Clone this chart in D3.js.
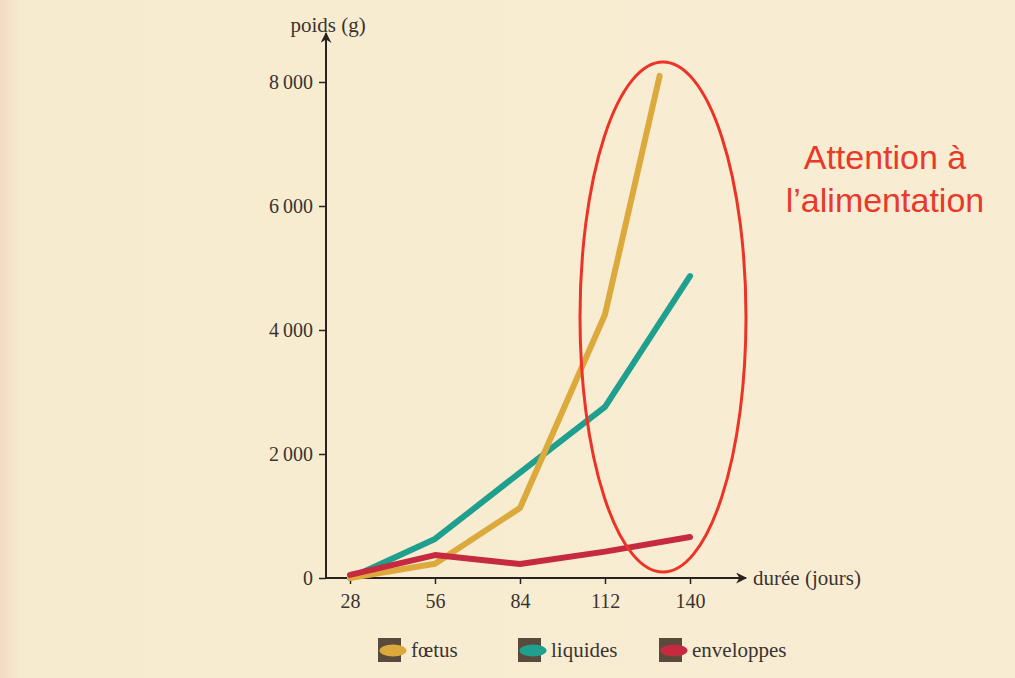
<!DOCTYPE html>
<html>
<head>
<meta charset="utf-8">
<script src="https://cdn.jsdelivr.net/npm/d3@7"></script>
<style>
  body { margin: 0; background: #f7ebcf; }
  svg { display: block; }
  .tick text { font-family: "Liberation Serif", "DejaVu Serif", serif; font-size: 20px; fill: #3b3331; }
  .lbl { font-family: "Liberation Serif", "DejaVu Serif", serif; font-size: 21px; fill: #3b3331; }
  .note { font-family: "Liberation Sans", Arial, sans-serif; font-size: 34px; fill: #e8392b; }
</style>
</head>
<body>
<div id="chart"></div>
<script>
// data
var xTicks = [28, 56, 84, 112, 140];
var yTicks = [0, 2000, 4000, 6000, 8000];
var foetusDays = [28, 56, 84, 112, 130];
var foetus = [0, 230, 1130, 4250, 8100];
var liquidesDays = [28, 56, 84, 112, 140];
var liquides = [0, 630, 1700, 2760, 4870];
var enveloppesDays = [28, 56, 84, 112, 140];
var enveloppes = [50, 370, 225, 425, 660];
var seriesNames = ['fœtus', 'liquides', 'enveloppes'];
var seriesColors = ['#dcaa3c', '#1f9f8e', '#c62a40'];

var width = 1015, height = 678;
var svg = d3.select('#chart').append('svg')
	.attr('width', width)
	.attr('height', height);

// paper background, slightly pinkish on the left edge
var grad = svg.append('defs').append('linearGradient').attr('id', 'paper');
grad.append('stop').attr('offset', '0%').attr('stop-color', '#f3d9c4');
grad.append('stop').attr('offset', '2%').attr('stop-color', '#f7ebcf');
grad.append('stop').attr('offset', '100%').attr('stop-color', '#f8edd3');
svg.append('rect').attr('width', width).attr('height', height).attr('fill', 'url(#paper)');

svg.select('defs').append('marker')
	.attr('id', 'arrow')
	.attr('viewBox', '0 0 10 10')
	.attr('refX', 9).attr('refY', 5)
	.attr('markerWidth', 14).attr('markerHeight', 11)
	.attr('markerUnits', 'userSpaceOnUse')
	.attr('orient', 'auto')
	.append('path')
	.attr('d', 'M0,0 L10,5 L0,10 L3,5 Z')
	.attr('fill', '#2a2220');

var x = d3.scaleLinear().domain([28, 140]).range([350, 690]);
var y = d3.scaleLinear().domain([0, 8000]).range([578, 82]);
var originX = 326;

// axes
var fmt = function (d) { return d3.format(',')(d).replace(',', '\u2009'); };
var yAxis = d3.axisLeft(y).tickValues(yTicks).tickFormat(fmt).tickSize(7).tickSizeOuter(0).tickPadding(6);
var gy = svg.append('g').attr('transform', 'translate(' + originX + ',0)').call(yAxis);
gy.select('.domain').remove();
gy.selectAll('.tick line').attr('stroke', '#2a2220').attr('stroke-width', 1.5);

var xAxis = d3.axisBottom(x).tickValues(xTicks).tickSize(6).tickSizeOuter(0).tickPadding(10);
var gx = svg.append('g').attr('transform', 'translate(0,' + y(0) + ')').call(xAxis);
gx.select('.domain').remove();
gx.selectAll('.tick line').attr('stroke', '#2a2220').attr('stroke-width', 1.5);

svg.append('line')
	.attr('x1', originX).attr('y1', y(0) + 1)
	.attr('x2', originX).attr('y2', 33)
	.attr('stroke', '#2a2220').attr('stroke-width', 2)
	.attr('marker-end', 'url(#arrow)');
svg.append('line')
	.attr('x1', originX - 1).attr('y1', y(0))
	.attr('x2', 746).attr('y2', y(0))
	.attr('stroke', '#2a2220').attr('stroke-width', 2)
	.attr('marker-end', 'url(#arrow)');

svg.append('text').attr('class', 'lbl').attr('x', 328).attr('y', 32)
	.attr('text-anchor', 'middle').text('poids (g)');
svg.append('text').attr('class', 'lbl').attr('x', 753).attr('y', 585)
	.text('durée (jours)');

// lines
var line = d3.line()
	.x(function (d) { return x(d[0]); })
	.y(function (d) { return y(d[1]); });
var series = [
	{ name: 'liquides', days: liquidesDays, values: liquides, color: seriesColors[1] },
	{ name: 'fœtus', days: foetusDays, values: foetus, color: seriesColors[0] },
	{ name: 'enveloppes', days: enveloppesDays, values: enveloppes, color: seriesColors[2] }
];
series.forEach(function (s) {
	svg.append('path')
		.datum(d3.zip(s.days, s.values))
		.attr('d', line)
		.attr('fill', 'none')
		.attr('stroke', s.color)
		.attr('stroke-width', 6)
		.attr('stroke-linejoin', 'round')
		.attr('stroke-linecap', 'round');
});

// annotation
svg.append('ellipse')
	.attr('cx', 663).attr('cy', 317)
	.attr('rx', 83).attr('ry', 255)
	.attr('fill', 'none')
	.attr('stroke', '#ec3326')
	.attr('stroke-width', 3);
svg.append('text').attr('class', 'note').attr('x', 885).attr('y', 169)
	.attr('text-anchor', 'middle').text('Attention à');
svg.append('text').attr('class', 'note').attr('x', 885).attr('y', 212)
	.attr('text-anchor', 'middle').text('l\u2019alimentation');

// legend
var legendX = [378, 518, 659];
seriesNames.forEach(function (n, i) {
	var g = svg.append('g').attr('transform', 'translate(' + legendX[i] + ',638)');
	g.append('rect').attr('width', 23).attr('height', 24).attr('fill', '#5a4a3c');
	g.append('ellipse').attr('cx', 15).attr('cy', 12.5).attr('rx', 13.5).attr('ry', 6)
		.attr('fill', seriesColors[i]);
	g.append('text').attr('class', 'lbl').attr('x', 33).attr('y', 19).text(n);
});
</script>
</body>
</html>
